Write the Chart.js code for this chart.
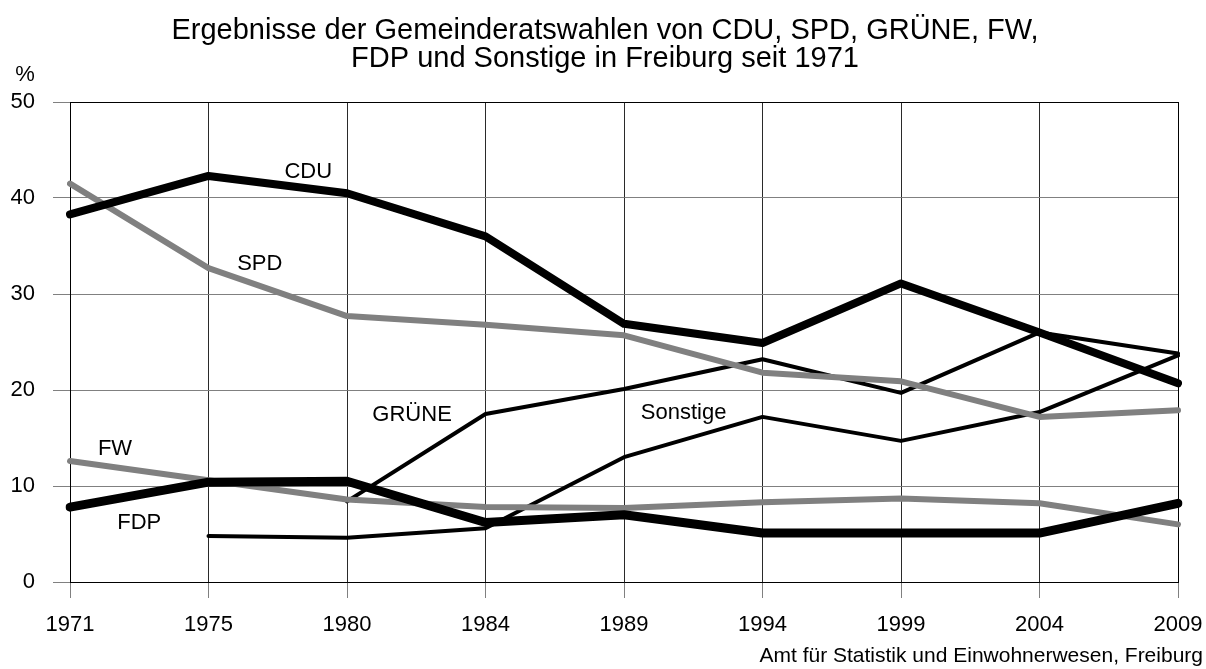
<!DOCTYPE html>
<html>
<head>
<meta charset="utf-8">
<script src="https://cdn.jsdelivr.net/npm/chart.js@4.4.1/dist/chart.umd.min.js"></script>
<style>
    body { margin: 0; background: #fff; }
    .wrap { position: relative; width: 1206px; height: 669px; }
</style>
</head>
<body>
<div class="wrap"><canvas id="wahlen"></canvas></div>
<script>
// Gemeinderatswahlen Freiburg, Stimmenanteile in %
const years = ['1971', '1975', '1980', '1984', '1989', '1994', '1999', '2004', '2009'];
const cdu = [38.3, 42.3, 40.5, 36.0, 26.9, 24.9, 31.1, 26.0, 20.7];
const spd = [41.5, 32.7, 27.7, 26.8, 25.7, 21.8, 20.9, 17.2, 17.9];
const gruene = [null, null, 8.4, 17.5, 20.1, 23.2, 19.7, 26.0, 23.8];
const sonstige = [null, 4.8, 4.6, 5.6, 13.0, 17.2, 14.7, 17.7, 23.6];
const fw = [12.6, 10.6, 8.6, 7.8, 7.7, 8.3, 8.7, 8.2, 6.0];
const fdp = [7.8, 10.4, 10.5, 6.2, 7.0, 5.1, 5.1, 5.1, 8.2];
const yTicks = [0, 10, 20, 30, 40, 50];

const titleLines = [
    'Ergebnisse der Gemeinderatswahlen von CDU, SPD, GRÜNE, FW,',
    'FDP und Sonstige in Freiburg seit 1971'
];
const sourceText = 'Amt für Statistik und Einwohnerwesen, Freiburg';

// where the party names sit (category index, percent)
const partyLabels = [
    { text: 'CDU', at: [1.72, 42.7] },
    { text: 'SPD', at: [1.37, 33.1] },
    { text: 'GRÜNE', at: [2.47, 17.4] },
    { text: 'Sonstige', at: [4.43, 17.6] },
    { text: 'FW', at: [0.325, 13.9] },
    { text: 'FDP', at: [0.50, 6.2] }
];

const FONT = '"Liberation Sans", Arial, sans-serif';
const GREY = '#808080';

const line = (label, data, color, width) => ({
    label: label,
    data: data,
    borderColor: color,
    borderWidth: width,
    borderCapStyle: 'round',
    borderJoinStyle: 'round',
    pointRadius: 0,
    tension: 0,
    fill: false,
    spanGaps: false
});

const textPlugin = {
    id: 'texts',
    afterDraw(chart) {
        const ctx = chart.ctx;
        const xs = chart.scales.x;
        const ys = chart.scales.y;
        ctx.save();
        ctx.fillStyle = '#000';
        ctx.textBaseline = 'middle';

        ctx.textAlign = 'center';
        ctx.font = `29px ${FONT}`;
        titleLines.forEach((t, i) => ctx.fillText(t, 605, 31 + i * 28));

        ctx.font = `22px ${FONT}`;
        ctx.fillText('%', 25, 75);

        partyLabels.forEach(l => {
            ctx.fillText(l.text, xs.getPixelForValue(l.at[0]), ys.getPixelForValue(l.at[1]));
        });

        ctx.textAlign = 'right';
        ctx.font = `21px ${FONT}`;
        ctx.fillText(sourceText, 1203, 656);
        ctx.restore();
    }
};

const ctx = document.getElementById('wahlen');
new Chart(ctx, {
    type: 'line',
    data: {
        labels: years,
        datasets: [
            line('CDU', cdu, '#000', 8),
            line('FDP', fdp, '#000', 9),
            line('SPD', spd, GREY, 6),
            line('FW', fw, GREY, 6),
            line('GRÜNE', gruene, '#000', 4),
            line('Sonstige', sonstige, '#000', 4)
        ]
    },
    options: {
        responsive: true,
        maintainAspectRatio: false,
        animation: false,
        layout: {
            padding: { top: 102, right: 28, bottom: 0, left: 0 }
        },
        plugins: {
            legend: { display: false },
            tooltip: { enabled: false },
            title: { display: false }
        },
        scales: {
            x: {
                offset: false,
                grid: {
                    color: c => (c.index === 0 || c.index === years.length - 1) ? '#000' : '#2a2a2a',
                    lineWidth: 1,
                    tickLength: 16,
                    tickColor: GREY
                },
                border: { color: '#000' },
                ticks: {
                    color: '#000',
                    font: { family: FONT, size: 22 },
                    padding: 14,
                    maxRotation: 0,
                    autoSkip: false
                },
                afterFit: s => {
                    s.height = 87;
                    s.paddingLeft = 0;
                    s.paddingRight = 0;
                }
            },
            y: {
                min: 0,
                max: 50,
                afterBuildTicks: s => { s.ticks = yTicks.map(v => ({ value: v })); },
                grid: {
                    color: c => (c.tick.value === 0 || c.tick.value === 50) ? '#000' : GREY,
                    lineWidth: 1,
                    tickLength: 17,
                    tickColor: GREY
                },
                border: { color: '#000' },
                ticks: {
                    color: '#000',
                    font: { family: FONT, size: 22 },
                    padding: 18
                },
                afterFit: s => { s.width = 70; }
            }
        }
    },
    plugins: [textPlugin]
});
</script>
</body>
</html>
